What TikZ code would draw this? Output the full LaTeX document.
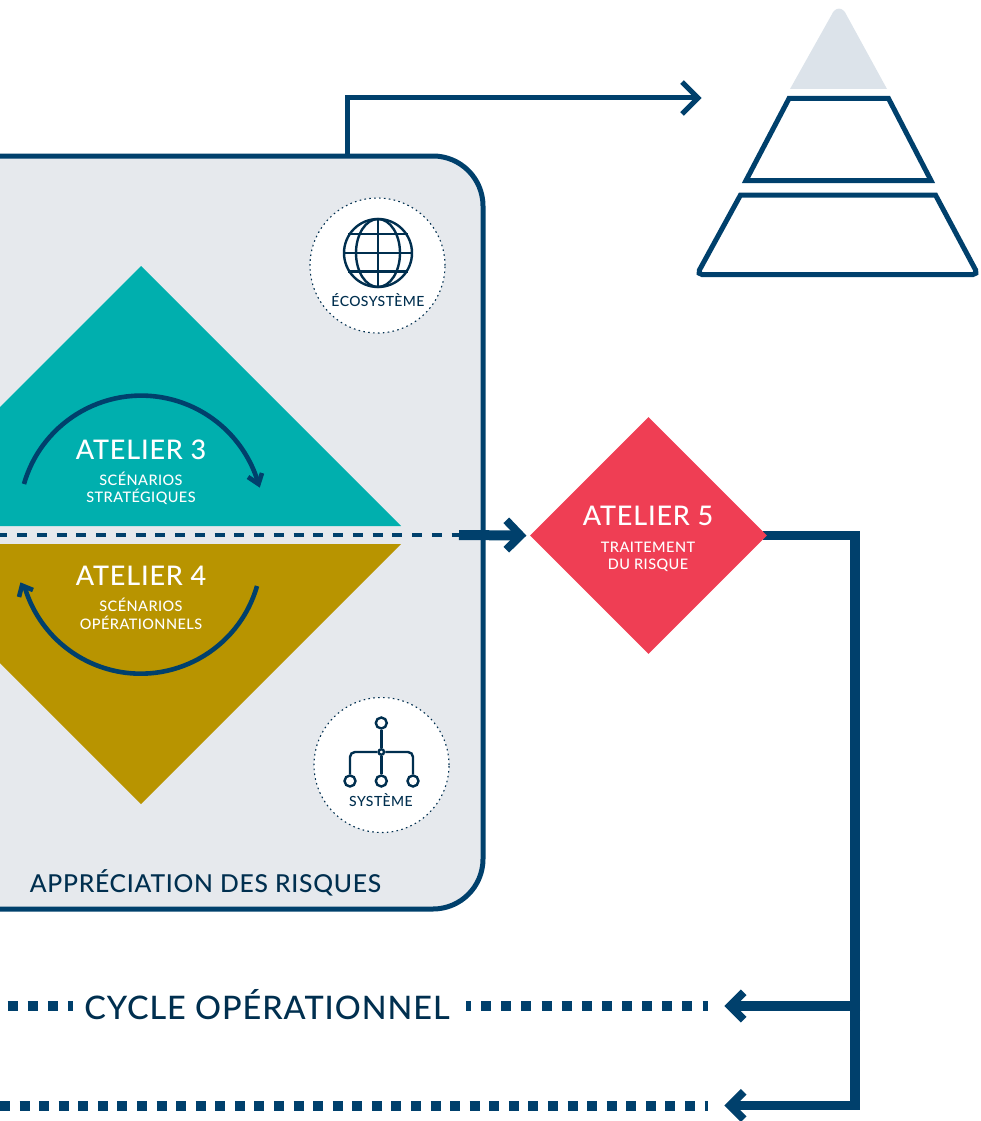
\documentclass[tikz,border=0pt]{standalone}
\usepackage{fontspec}
\setmainfont{Lato}
\newfontfamily\lsp[LetterSpace=3]{Lato Medium}
\usetikzlibrary{calc,shapes.geometric}
\pgfdeclarelayer{under}
\pgfsetlayers{under,main}
\definecolor{navy}{HTML}{00406C}
\definecolor{inkc}{HTML}{002F4F}
\definecolor{panelc}{HTML}{E6E9ED}
\definecolor{tealc}{HTML}{00AFAE}
\definecolor{goldc}{HTML}{B89400}
\definecolor{redc}{HTML}{EF3E54}
\definecolor{pyrc}{HTML}{DCE3EA}
\tikzset{
  x=1pt,y=-1pt,
  title/.style={text=white,font=\lsp\fontsize{27}{27}\selectfont,inner sep=0pt,anchor=center},
  sub/.style={text=white,font=\lsp\fontsize{14.5}{14.5}\selectfont,inner sep=0pt,anchor=center},
  lab/.style={text=inkc,font=\lsp\fontsize{14}{14}\selectfont,inner sep=0pt,anchor=center},
  big/.style={text=inkc,font=\lsp\fontsize{24.7}{24.7}\selectfont,inner sep=0pt,anchor=center},
  cyc/.style={text=inkc,font=\lsp\fontsize{32.4}{32.4}\selectfont,inner sep=0pt,anchor=center},
  thinln/.style={draw=navy,line width=5pt},
  thickln/.style={draw=navy,line width=9.6pt},
  chev/.style={draw=navy,line width=8pt,miter limit=10},
  arcln/.style={draw=navy,line width=4.6pt},
  dotsa/.style={draw=navy,line width=10pt,dash pattern=on 10pt off 9.57pt},
  dotsb/.style={draw=navy,line width=10pt,dash pattern=on 10pt off 10.13pt},
  bubble/.style={circle,draw=inkc,fill=white,line width=1.1pt,dash pattern=on 1.6pt off 3.3pt,inner sep=0pt,minimum size=135pt},
  icon/.style={draw=inkc,line width=2.4pt},
  pyr/.style={draw=navy,line width=5pt,miter limit=10},
}
\begin{document}
\begin{tikzpicture}
\useasboundingbox (0,0) rectangle (980,1121);
% panel
\coordinate (pTop) at (347,156);
\draw[thinln,fill=panelc,rounded corners=50pt] (-80,156) -- (483,156) -- (483,909) -- (-80,909) -- cycle;
% upper arrow
\coordinate (pyrIn) at (698,98);
\draw[thinln] (pTop) |- (pyrIn);
\draw[thinln,miter limit=10] (682,82) -- (pyrIn) -- (682,114);
% pyramid
\fill[pyrc] (790,89) -- (831.5,15) .. controls (835,6.5) and (843,6.5) .. (846.5,15) -- (887,89) -- cycle;
\draw[pyr] (789,98.5) -- (888.5,98.5) -- (931,180.5) -- (746,180.5) -- cycle;
\draw[pyr] (740.5,195) -- (935.5,195) [rounded corners=5pt] -- (978,274.5) -- (697,274.5) [sharp corners] -- cycle;
% diamonds
\fill[tealc] (141,266) -- (401,526) -- (-119,526) -- cycle;
\fill[goldc] (141,804) -- (401,544) -- (-119,544) -- cycle;
\node[diamond,fill=redc,inner sep=0pt,minimum width=237pt,minimum height=237pt,aspect=1] (a5) at (648.5,535.5) {};
% dashed line
\coordinate (dashS) at (0,535);
\coordinate (dashE) at (459,535);
\draw[draw=navy,line width=4pt,dash pattern=on 10pt off 9.75pt,dash phase=2.75pt] (dashS) -- (dashE);
\coordinate (a5in) at ($(a5.west)+(-9,0)$);
\draw[draw=navy,line width=10pt] (dashE) -- (a5in);
\draw[chev] (506.3,520.3) -- (a5in) -- (506.3,549.7);
% bent connector
\coordinate (c1) at (730,1006);
\coordinate (c2) at (730,1105.5);
\begin{pgfonlayer}{under}
\draw[thickln,miter limit=10] (a5.east) ++(-4,0) -| (854.7,1105.5) -- (c2);
\end{pgfonlayer}
\draw[thickln] (860,1006) -- (c1);
\draw[chev] (743.7,992.3) -- (c1) -- (743.7,1019.7);
\draw[chev] (743.7,1091.8) -- (c2) -- (743.7,1119.2);
% square dotted lines
\draw[dotsa] (0,1105.5) -- (708,1105.5);
\draw[dotsb] (7.5,1006) -- (73,1006);
\draw[dotsb,dash phase=5pt] (466,1006) -- (708,1006);
% loop arrows
\draw[arcln] (24,484) arc[start angle=196,end angle=344,radius=122];
\draw[arcln,miter limit=10] (248,477) -- (258.5,484) -- (262,473);
\draw[arcln] (257,586) arc[start angle=16,end angle=164,radius=121];
\draw[arcln,miter limit=10] (19,597) -- (22,585.5) -- (33,590);
% labels in diamonds
\node[title] (t3) at (141,450) {ATELIER 3};
\node[sub] (s3a) at (141,479) {SCÉNARIOS};
\node[sub] (s3b) at (141,496.5) {STRATÉGIQUES};
\node[title] (t4) at (141,576) {ATELIER 4};
\node[sub] (s4a) at (141,605) {SCÉNARIOS};
\node[sub] (s4b) at (141,623) {OPÉRATIONNELS};
\node[title] (t5) at (648,516) {ATELIER 5};
\node[sub] (s5a) at (648,547) {TRAITEMENT};
\node[sub] (s5b) at (648,565) {DU RISQUE};
% ecosystem bubble
\node[bubble] (eco) at (377.5,265.5) {};
\draw[icon] (378,253) circle[radius=34];
\draw[icon] (378,253) ellipse[x radius=22,y radius=34];
\draw[icon] (378,219) -- (378,287) (344,253) -- (412,253) (348,234) -- (408,234) (348,271.5) -- (408,271.5);
\node[lab] (ecol) at (378,300) {ÉCOSYSTÈME};
% system bubble
\node[bubble] (sys) at (381.5,765) {};
\node[circle,icon,inner sep=0pt,minimum size=11pt] (n0) at (381.3,723) {};
\node[circle,icon,inner sep=0pt,minimum size=5.5pt] (nm) at (381.3,752) {};
\node[circle,icon,inner sep=0pt,minimum size=11pt] (n1) at (350,781) {};
\node[circle,icon,inner sep=0pt,minimum size=11pt] (n2) at (381.3,781) {};
\node[circle,icon,inner sep=0pt,minimum size=11pt] (n3) at (413,781) {};
\draw[icon] (n0) -- (nm);
\draw[icon] (nm) -- (n2);
\draw[icon,rounded corners=5pt] (nm) -| (n1);
\draw[icon,rounded corners=5pt] (nm) -| (n3);
\node[lab] (sysl) at (381,800) {SYSTÈME};
% panel and cycle labels
\node[big] (pl) at (205.5,882.5) {APPRÉCIATION DES RISQUES};
\node[cyc] (cy) at (267,1004.5) {CYCLE OPÉRATIONNEL};
\end{tikzpicture}
\end{document}
